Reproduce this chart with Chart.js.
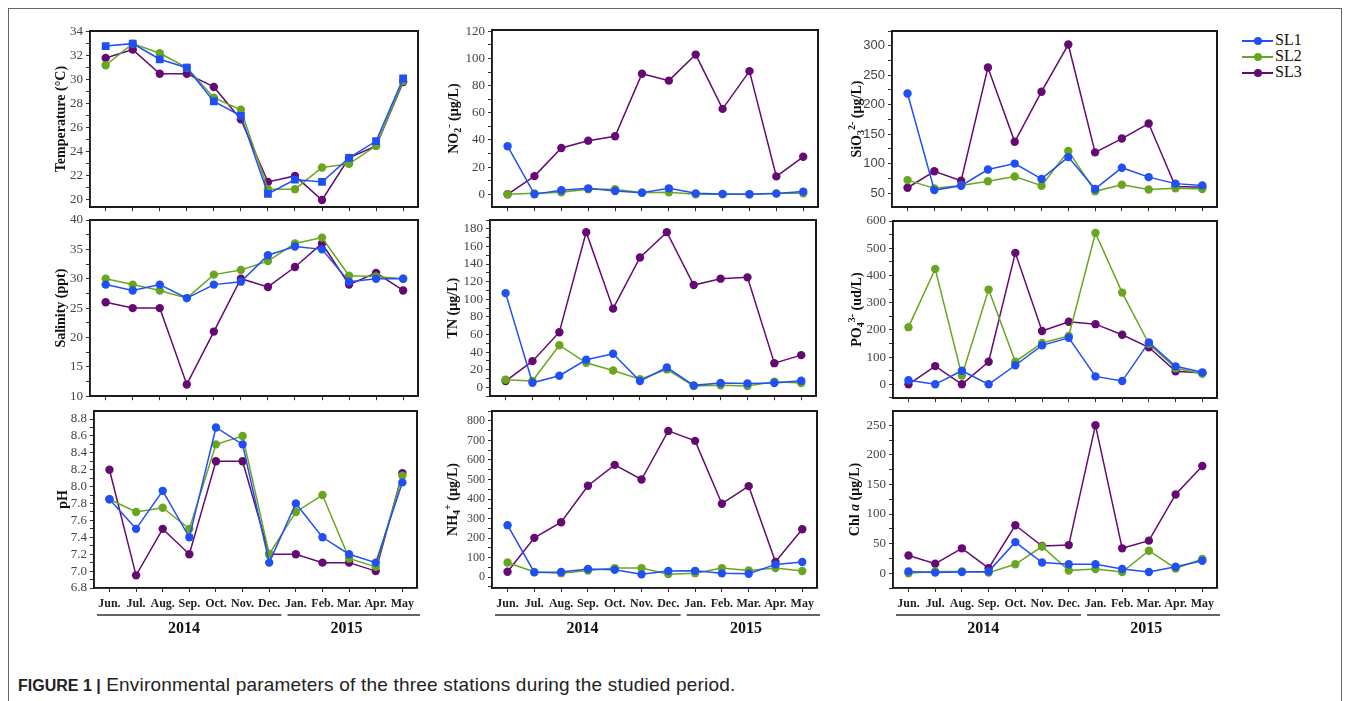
<!DOCTYPE html>
<html lang="en">
<head>
<meta charset="UTF-8">
<title>Environmental parameters</title>
<script src="https://cdn.jsdelivr.net/npm/chart.js"></script>
<style>
  body { margin: 0; width: 1355px; height: 701px; background: #fff; position: relative; overflow: hidden; }
  .panel { position: absolute; }
  #frame { position: absolute; left: 8px; top: 8px; width: 1332px; height: 760px; border: 1px solid #666; border-bottom: none; }
  #legend { position: absolute; left: 1242px; top: 32px; font: 16px "Liberation Serif", "Times New Roman", serif; color: #111; }
  .lg-row { position: relative; height: 16px; width: 80px; }
  .lg-line { position: absolute; left: 0; top: 8px; width: 31px; height: 2px; }
  .lg-dot { position: absolute; left: 12px; top: 5px; width: 8px; height: 8px; border-radius: 50%; }
  .lg-text { position: absolute; left: 33px; top: -1px; line-height: 18px; }
  #caption { position: absolute; left: 18px; top: 674px; font: 19px "Liberation Sans", Arial, sans-serif; letter-spacing: 0.2px; color: #222; white-space: nowrap; }
  #caption b { font-size: 16px; letter-spacing: 0; }
</style>
</head>
<body>
<div id="frame"></div>
<div id="legend"></div>
<div id="caption"><b>FIGURE 1 |</b> Environmental parameters of the three stations during the studied period.</div>

<script>
  const months = ["Jun.", "Jul.", "Aug.", "Sep.", "Oct.", "Nov.", "Dec.", "Jan.", "Feb.", "Mar.", "Apr.", "May"];
  const yearLabels = ["2014", "2015"];
  const seriesNames = ["SL1", "SL2", "SL3"];
  const seriesColors = ["#1f4ff5", "#68a620", "#650a72"];

  // values, Jun 2014 .. May 2015
  const tempSL1 = [32.8, 33.0, 31.7, 31.0, 28.2, 27.0, 20.5, 21.7, 21.5, 23.5, 24.9, 30.1];
  const tempSL2 = [31.2, 33.0, 32.2, 31.0, 28.5, 27.5, 20.9, 20.9, 22.7, 23.0, 24.5, 29.9];
  const tempSL3 = [31.8, 32.5, 30.5, 30.5, 29.4, 26.7, 21.5, 22.0, 20.0, 23.5, 24.5, 29.8];

  const no2SL1 = [35.4, 0, 3, 4.4, 2.4, 1.2, 4.4, 0.7, 0.3, 0, 0.5, 2];
  const no2SL2 = [0, 0.7, 1.5, 3.7, 3.7, 1.2, 1.5, 0, 0, 0, 0.7, 0.7];
  const no2SL3 = [0, 13.4, 34.1, 39.5, 42.7, 88.8, 83.7, 102.9, 62.9, 90.7, 13.2, 27.6];

  const sio3SL1 = [219, 55, 62.5, 90, 100, 74, 111, 57, 93, 77, 66, 63];
  const sio3SL2 = [72, 58, 63, 70, 78, 62.5, 121.5, 53, 64, 56, 58, 57];
  const sio3SL3 = [59, 87, 71, 263, 137, 222, 302, 119, 142.5, 168, 61, 60];

  const salSL1 = [29, 28, 29, 26.7, 29, 29.5, 34, 35.5, 35, 29.5, 30, 30];
  const salSL2 = [30, 29, 28, 26.7, 30.7, 31.5, 33, 36, 37, 30.5, 30.4, 30];
  const salSL3 = [26, 25, 25, 12, 21, 30, 28.6, 32, 36, 29, 31, 28];

  const tnSL1 = [107, 5.3, 13.2, 31.3, 38.1, 7.2, 22.6, 2.3, 4.9, 4.5, 4.9, 7.5];
  const tnSL2 = [8.7, 7.2, 47.9, 27.9, 19.2, 9.4, 20.4, 1.5, 2.3, 1.5, 6.4, 4.9];
  const tnSL3 = [7.2, 29.8, 62.6, 176.2, 89.4, 147.5, 176.2, 116.2, 123.4, 124.9, 27.5, 36.6];

  const po4SL1 = [15, 0, 50, 0, 70, 143, 171, 29, 12, 154, 66, 44];
  const po4SL2 = [210, 424, 32, 348, 83, 152, 178, 556, 337, 149, 59, 39];
  const po4SL3 = [0, 67, 0, 83, 483, 196, 230, 221, 182, 136, 48, 42];

  const phSL1 = [7.85, 7.5, 7.95, 7.4, 8.7, 8.5, 7.1, 7.8, 7.4, 7.2, 7.1, 8.05];
  const phSL2 = [7.85, 7.7, 7.75, 7.5, 8.5, 8.6, 7.2, 7.7, 7.9, 7.15, 7.05, 8.13];
  const phSL3 = [8.2, 6.95, 7.5, 7.2, 8.3, 8.3, 7.2, 7.2, 7.1, 7.1, 7.0, 8.16];

  const nh4SL1 = [266, 24, 26, 41, 37, 14, 31, 32, 19, 17, 65, 77];
  const nh4SL2 = [75, 26, 20, 34, 46, 46, 15, 20, 46, 34, 46, 31];
  const nh4SL3 = [27, 201, 281, 468, 575, 500, 749, 698, 376, 466, 78, 245];

  const chlSL1 = [3, 1, 2, 3, 52.5, 18, 15, 15, 7, 2, 11, 21];
  const chlSL2 = [0, 3, 3, 1, 15, 45, 4.5, 7, 2, 38, 8, 24];
  const chlSL3 = [30, 16, 42, 8.5, 81, 46, 47.5, 250, 42, 55, 133, 181];

  // axis ranges + labelled ticks (from..to by step, minor halfway)
  const tempAxis = { min: 19.4, max: 34.05, from: 20, to: 34, step: 2, minor: 1 };
  const no2Axis = { min: -9.5, max: 121, from: 0, to: 120, step: 20, minor: 10 };
  const sio3Axis = { min: 26, max: 325, from: 50, to: 300, step: 50, minor: 25 };
  const salAxis = { min: 10, max: 40, from: 10, to: 40, step: 5, minor: 2.5 };
  const tnAxis = { min: -10, max: 190, from: 0, to: 180, step: 20, minor: 10 };
  const po4Axis = { min: -51, max: 600, from: 0, to: 600, step: 100, minor: 50 };
  const phAxis = { min: 6.8, max: 8.895, from: 6.8, to: 8.8, step: 0.2, minor: 0.1, digits: 1 };
  const nh4Axis = { min: -56, max: 851, from: 0, to: 800, step: 100, minor: 50 };
  const chlAxis = { min: -25, max: 274, from: 0, to: 250, step: 50, minor: 25 };

  const SERIF = '"Liberation Serif", "Times New Roman", serif';
  const SANS = '"Liberation Sans", Arial, sans-serif';

  // title pieces: [text, kind] kind: n normal, b subscript, p superscript, i italic
  const panels = [
    { box: [90, 31, 418, 208], gap: 29, axis: tempAxis, series: [tempSL1, tempSL2, tempSL3], square: true,
      title: [["Temperature (°C)", "n"]] },
    { box: [492, 30, 818, 208], gap: 38, axis: no2Axis, series: [no2SL1, no2SL2, no2SL3],
      title: [["NO", "n"], ["2", "b"], ["-", "p"], [" (µg/L)", "n"]] },
    { box: [892, 31, 1217, 208], gap: 35, axis: sio3Axis, series: [sio3SL1, sio3SL2, sio3SL3], tickFont: SANS,
      title: [["SiO", "n"], ["3", "b"], ["2-", "p"], [" (µg/L)", "n"]] },
    { box: [90, 220, 418, 397], gap: 29, axis: salAxis, series: [salSL1, salSL2, salSL3],
      title: [["Salinity (ppt)", "n"]] },
    { box: [490, 220, 816, 397], gap: 37, axis: tnAxis, series: [tnSL1, tnSL2, tnSL3],
      title: [["TN (µg/L)", "n"]] },
    { box: [893, 221, 1217, 399], gap: 36, axis: po4Axis, series: [po4SL1, po4SL2, po4SL3],
      title: [["PO", "n"], ["4", "b"], ["3-", "p"], [" (ud/L)", "n"]] },
    { box: [94, 411, 417, 588], gap: 31, axis: phAxis, series: [phSL1, phSL2, phSL3],
      title: [["pH", "n"]] },
    { box: [492, 411, 817, 588], gap: 39, axis: nh4Axis, series: [nh4SL1, nh4SL2, nh4SL3], tickSize: 12,
      title: [["NH", "n"], ["4", "b"], ["+", "p"], [" (µg/L)", "n"]] },
    { box: [893, 411, 1217, 588], gap: 38, axis: chlAxis, series: [chlSL1, chlSL2, chlSL3],
      title: [["Chl ", "n"], ["a", "i"], [" (µg/L)", "n"]] },
  ];

  function tickValues(a) {
    const out = [];
    const start = a.from - Math.floor((a.from - a.min) / a.minor + 1e-9) * a.minor;
    for (let v = start; v <= a.max + 1e-9; v += a.minor) {
      out.push(Math.round(v * 1000) / 1000);
    }
    return out;
  }

  function isMajor(a, v) {
    const k = (v - a.from) / a.step;
    return Math.abs(k - Math.round(k)) < 1e-6 && v >= a.from - 1e-9 && v <= a.to + 1e-9;
  }

  function drawTitle(ctx, parts, x, y) {
    const fonts = {
      n: "bold 14px " + SERIF,
      i: "italic bold 14px " + SERIF,
      b: "bold 10px " + SERIF,
      p: "bold 10px " + SERIF,
    };
    const shift = { n: 0, i: 0, b: 4, p: -5 };
    ctx.save();
    ctx.translate(x, y);
    ctx.rotate(-Math.PI / 2);
    let total = 0;
    parts.forEach(([t, k]) => { ctx.font = fonts[k]; total += ctx.measureText(t).width; });
    let cx = -total / 2;
    ctx.fillStyle = "#111";
    ctx.textBaseline = "middle";
    parts.forEach(([t, k]) => {
      ctx.font = fonts[k];
      ctx.fillText(t, cx, shift[k]);
      cx += ctx.measureText(t).width;
    });
    ctx.restore();
  }

  const panelDecor = {
    id: "panelDecor",
    beforeDatasetsDraw(chart) {
      const { ctx, chartArea: ca } = chart;
      ctx.save();
      ctx.strokeStyle = "#1a1a1a";
      ctx.lineWidth = 1.5;
      ctx.strokeRect(ca.left, ca.top, ca.right - ca.left, ca.bottom - ca.top);
      ctx.lineWidth = 2;
      ctx.beginPath();
      ctx.moveTo(ca.left, ca.top);
      ctx.lineTo(ca.right, ca.top);
      ctx.lineTo(ca.right, ca.bottom);
      ctx.stroke();
      ctx.restore();
    },
    afterDraw(chart, args, opts) {
      const { ctx, chartArea: ca } = chart;
      drawTitle(ctx, opts.title, ca.left - opts.gap, (ca.top + ca.bottom) / 2);
      if (!opts.years) return;
      const x = chart.scales.x;
      const split = x.getPixelForValue(6.5);
      const yl = ca.bottom + 27;
      ctx.save();
      ctx.strokeStyle = "#333";
      ctx.lineWidth = 1.5;
      ctx.beginPath();
      ctx.moveTo(ca.left + 3, yl);
      ctx.lineTo(split - 1, yl);
      ctx.moveTo(split + 5, yl);
      ctx.lineTo(ca.right + 3, yl);
      ctx.stroke();
      ctx.fillStyle = "#111";
      ctx.font = "bold 16px " + SERIF;
      ctx.textAlign = "center";
      ctx.textBaseline = "middle";
      ctx.fillText(yearLabels[0], x.getPixelForValue(2.8), ca.bottom + 41);
      ctx.fillText(yearLabels[1], x.getPixelForValue(8.9), ca.bottom + 41);
      ctx.restore();
    },
  };

  panels.forEach((p, idx) => {
    const bottomRow = idx >= 6;
    const [l, t, r, b] = p.box;
    const YW = 80, PT = 12, PR = 12;
    const XH = bottomRow ? 62 : 10;
    const a = p.axis;

    const wrap = document.createElement("div");
    wrap.className = "panel";
    wrap.style.left = l - YW + "px";
    wrap.style.top = t - PT + "px";
    const canvas = document.createElement("canvas");
    canvas.width = YW + (r - l) + PR;
    canvas.height = PT + (b - t) + XH;
    wrap.appendChild(canvas);
    document.body.appendChild(wrap);

    new Chart(canvas, {
      type: "line",
      data: {
        datasets: p.series.map((vals, k) => ({
          label: seriesNames[k],
          data: vals.map((v, i) => ({ x: i, y: v })),
          borderColor: seriesColors[k],
          backgroundColor: seriesColors[k],
          borderWidth: 1.5,
          pointStyle: p.square && k === 0 ? "rect" : "circle",
          pointRadius: p.square && k === 0 ? 5.5 : 4.2,
          pointBorderWidth: 0,
          tension: 0,
        })),
      },
      plugins: [panelDecor],
      options: {
        responsive: false,
        animation: false,
        layout: { padding: { top: PT, right: PR, left: 0, bottom: 0 } },
        plugins: {
          legend: { display: false },
          tooltip: { enabled: false },
          panelDecor: { title: p.title, gap: p.gap, years: bottomRow },
        },
        scales: {
          x: {
            type: "linear",
            min: -0.58,
            max: 11.55,
            afterBuildTicks: (s) => { s.ticks = months.map((m, i) => ({ value: i })); },
            afterFit: (s) => { s.height = XH; },
            grid: { drawOnChartArea: false, drawTicks: true, tickLength: 4, color: "#333" },
            border: { display: true, color: "#1a1a1a", width: 1.5 },
            ticks: {
              display: bottomRow,
              autoSkip: false,
              maxRotation: 0,
              padding: 5,
              color: "#222",
              font: { family: SERIF, size: 12, weight: "bold" },
              callback: (v) => months[v],
            },
          },
          y: {
            type: "linear",
            min: a.min,
            max: a.max,
            afterBuildTicks: (s) => { s.ticks = tickValues(a).map((v) => ({ value: v })); },
            afterFit: (s) => { s.width = YW; },
            grid: { drawOnChartArea: false, drawTicks: true, tickLength: 4, color: "#333" },
            border: { display: true, color: "#1a1a1a", width: 1.5 },
            ticks: {
              autoSkip: false,
              padding: 3,
              color: "#444",
              font: { family: p.tickFont || SERIF, size: p.tickSize || 13 },
              callback: (v) => (isMajor(a, v) ? (a.digits ? v.toFixed(a.digits) : String(v)) : ""),
            },
          },
        },
      },
    });
  });

  // legend in the top right corner
  const legend = document.getElementById("legend");
  seriesNames.forEach((name, k) => {
    const row = document.createElement("div");
    row.className = "lg-row";
    row.innerHTML =
      '<div class="lg-line" style="background:' + seriesColors[k] + '"></div>' +
      '<div class="lg-dot" style="background:' + seriesColors[k] + '"></div>' +
      '<div class="lg-text">' + name + "</div>";
    legend.appendChild(row);
  });
</script>
</body>
</html>
